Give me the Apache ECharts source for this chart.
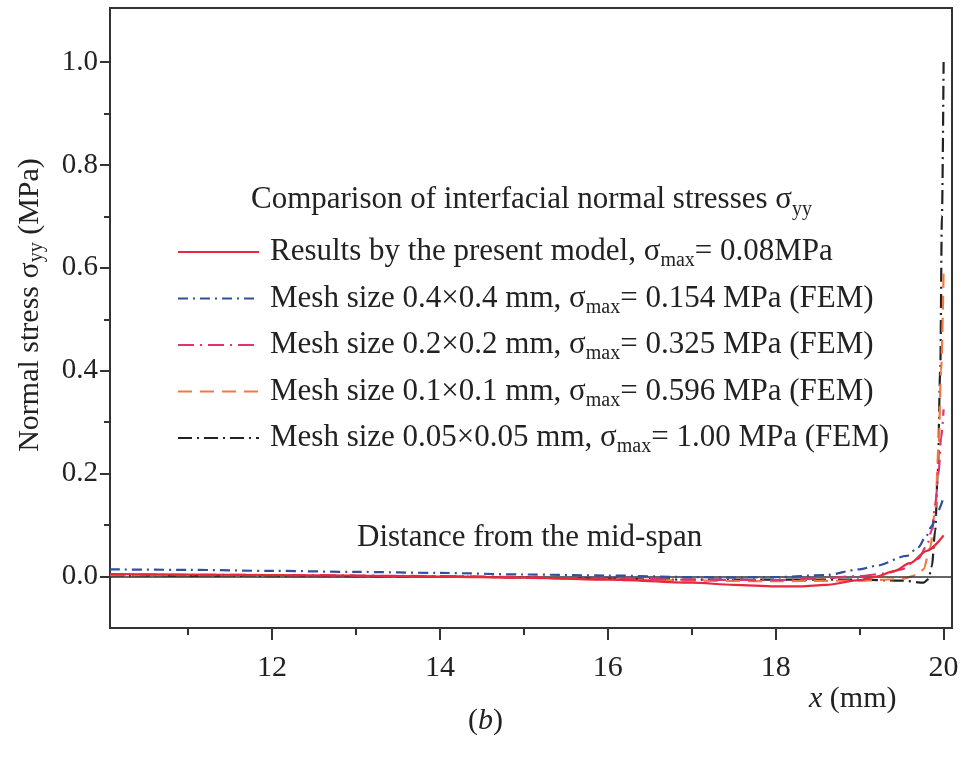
<!DOCTYPE html>
<html>
<head>
<meta charset="utf-8">
<script src="https://cdn.jsdelivr.net/npm/echarts@6/dist/echarts.min.js"></script>
<style>html,body{margin:0;padding:0;background:#fff}#c{width:963px;height:757px}</style>
</head>
<body>
<div id="c"></div>
<script>
// ---- data ----
const xModel = [10.07, 11, 12, 13, 14, 15, 16, 17, 17.5, 18, 18.3, 18.6, 19, 19.2, 19.4, 19.6, 19.8, 20];
const yModel = [0.005, 0.004, 0.003, 0.002, 0.0, -0.002, -0.006, -0.012, -0.016, -0.019, -0.019, -0.016, -0.007, 0.0, 0.01, 0.026, 0.05, 0.08];

const xMesh04 = [10.07, 11, 12, 13, 14, 15, 16, 17, 17.5, 18, 18.6, 19, 19.2, 19.56, 19.7, 19.79, 19.86, 19.92, 20];
const yMesh04 = [0.014, 0.013, 0.011, 0.009, 0.007, 0.004, 0.002, -0.001, -0.002, -0.001, 0.003, 0.014, 0.021, 0.04, 0.057, 0.078, 0.098, 0.124, 0.154];

const xMesh02 = [10.07, 12, 14, 16, 17, 18, 18.5, 19, 19.3, 19.5, 19.7, 19.8, 19.86, 19.9, 19.94, 19.97, 20];
const yMesh02 = [0.004, 0.003, 0.001, -0.004, -0.006, -0.007, -0.004, 0.001, 0.006, 0.014, 0.035, 0.06, 0.09, 0.14, 0.2, 0.27, 0.325];

const xMesh01 = [10.07, 12, 14, 16, 17, 18, 19, 19.5, 19.7, 19.76, 19.84, 19.9, 19.94, 19.97, 20];
const yMesh01 = [0.002, 0.001, 0.0, -0.005, -0.008, -0.009, -0.008, -0.005, 0.004, 0.014, 0.056, 0.13, 0.25, 0.4, 0.596];

const xMesh005 = [10.07, 12, 14, 16, 17, 18, 19, 19.5, 19.76, 19.82, 19.86, 19.9, 19.93, 19.96, 19.98, 20];
const yMesh005 = [0.002, 0.001, 0.0, -0.004, -0.006, -0.006, -0.006, -0.008, -0.012, -0.005, 0.02, 0.09, 0.2, 0.4, 0.7, 1.0];

const seriesNames = ['model', 'mesh04', 'mesh02', 'mesh01', 'mesh005'];
const legendLabels = [
  'Results by the present model, σ{s|max}= 0.08MPa',
  'Mesh size 0.4×0.4 mm, σ{s|max}= 0.154 MPa (FEM)',
  'Mesh size 0.2×0.2 mm, σ{s|max}= 0.325 MPa (FEM)',
  'Mesh size 0.1×0.1 mm, σ{s|max}= 0.596 MPa (FEM)',
  'Mesh size 0.05×0.05 mm, σ{s|max}= 1.00 MPa (FEM)'
];
const xMajorTicks = [12, 14, 16, 18, 20];
const xMinorTicks = [11, 13, 15, 17, 19];
const yMajorTicks = [0, 0.2, 0.4, 0.6, 0.8, 1.0];
const yMinorTicks = [0.1, 0.3, 0.5, 0.7, 0.9];

const FONT = 'Liberation Serif';
const TXT = '#222222';
const zip = (xs, ys) => xs.map((x, i) => [x, ys[i]]);

const chart = echarts.init(document.getElementById('c'), null, {renderer: 'canvas'});

const styles = [
  {color: '#e8283c', type: 'solid', width: 2.2},
  {color: '#2f4f9f', type: [10, 5, 2, 5], width: 2.2},
  {color: '#e0336f', type: [16, 6, 2, 6], width: 2.2},
  {color: '#f27a3e', type: [14, 8], width: 2.2},
  {color: '#222222', type: [14, 5, 2, 5], width: 2.2}
];
const datasets = [
  zip(xModel, yModel), zip(xMesh04, yMesh04), zip(xMesh02, yMesh02),
  zip(xMesh01, yMesh01), zip(xMesh005, yMesh005)
];

const series = datasets.map((d, i) => ({
  name: seriesNames[i],
  type: 'line',
  data: d,
  symbol: 'none',
  smooth: 0.3,
  smoothMonotone: 'x',
  color: styles[i].color,
  lineStyle: styles[i],
  z: 5 - i + 2
}));
series[0].markLine = {
  silent: true, symbol: 'none', label: {show: false},
  lineStyle: {color: '#333', type: 'solid', width: 1.5},
  data: [{yAxis: 0}]
};

const subRich = {
  s: {fontFamily: FONT, fontSize: 20, color: TXT, verticalAlign: 'bottom', lineHeight: 20, padding: [0, 0, -2, 0]}
};

chart.setOption({
  animation: false,
  backgroundColor: '#fff',
  title: [
    {text: 'Comparison of interfacial normal stresses σ{s|yy}', left: 246, top: 177,
     textStyle: {fontFamily: FONT, fontSize: 31, fontWeight: 'normal', color: TXT, lineHeight: 36, rich: subRich}},
    {text: 'Distance from the mid-span', left: 352, top: 515,
     textStyle: {fontFamily: FONT, fontSize: 31, fontWeight: 'normal', color: TXT, lineHeight: 36}},
    {text: '{i|x} (mm)', left: 804, top: 676,
     textStyle: {fontFamily: FONT, fontSize: 30, fontWeight: 'normal', color: TXT, lineHeight: 36,
       rich: {i: {fontFamily: FONT, fontSize: 30, fontStyle: 'italic', color: TXT}}}},
    {text: '({i|b})', left: 463, top: 698,
     textStyle: {fontFamily: FONT, fontSize: 30, fontWeight: 'normal', color: TXT, lineHeight: 36,
       rich: {i: {fontFamily: FONT, fontSize: 30, fontStyle: 'italic', color: TXT}}}}
  ],
  legend: {
    orient: 'vertical', left: 172, top: 230, itemWidth: 81, itemHeight: 2, itemGap: 10.5,
    data: seriesNames,
    formatter: name => legendLabels[seriesNames.indexOf(name)],
    itemStyle: {opacity: 0},
    textStyle: {fontFamily: FONT, fontSize: 31, color: TXT, lineHeight: 34, padding: [0, 0, 0, 6], rich: subRich},
    selectedMode: false
  },
  grid: {left: 110, right: 11, top: 8, bottom: 129, show: true, borderColor: '#333', borderWidth: 2, containLabel: false},
  xAxis: [
    {type: 'value', min: 10.07, max: 20.1, position: 'bottom',
     axisLine: {show: true, onZero: false, lineStyle: {color: '#333', width: 2}},
     axisTick: {show: true, inside: false, length: 12, customValues: xMajorTicks, lineStyle: {color: '#333', width: 2}},
     axisLabel: {show: true, customValues: xMajorTicks, margin: 25, fontFamily: FONT, fontSize: 30, color: TXT},
     splitLine: {show: false}},
    {type: 'value', min: 10.07, max: 20.1, position: 'bottom',
     axisLine: {show: false, onZero: false},
     axisTick: {show: true, inside: false, length: 7, customValues: xMinorTicks, lineStyle: {color: '#333', width: 2}},
     axisLabel: {show: false}, splitLine: {show: false}}
  ],
  yAxis: [
    {type: 'value', min: -0.1, max: 1.105, position: 'left',
     name: 'Normal stress σ{s|yy} (MPa)', nameLocation: 'middle', nameRotate: 90, nameGap: 65,
     nameTextStyle: {fontFamily: FONT, fontSize: 30, color: TXT, rich: subRich, padding: [0, 0, 0, 26]},
     axisLine: {show: true, onZero: false, lineStyle: {color: '#333', width: 2}},
     axisTick: {show: true, inside: false, length: 10, customValues: yMajorTicks, lineStyle: {color: '#333', width: 2}},
     axisLabel: {show: true, customValues: yMajorTicks, margin: 12, fontFamily: FONT, fontSize: 29, color: TXT,
       formatter: v => v.toFixed(1)},
     splitLine: {show: false}},
    {type: 'value', min: -0.1, max: 1.105, position: 'left',
     axisLine: {show: false, onZero: false},
     axisTick: {show: true, inside: false, length: 6, customValues: yMinorTicks, lineStyle: {color: '#333', width: 2}},
     axisLabel: {show: false}, splitLine: {show: false}}
  ],
  series: series
});
</script>
</body>
</html>
